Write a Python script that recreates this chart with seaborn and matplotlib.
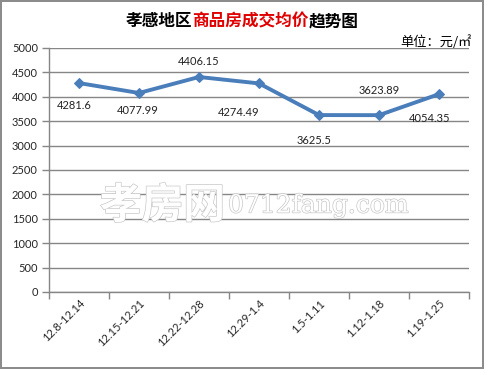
import matplotlib
matplotlib.use("Agg")
import matplotlib.pyplot as plt
import matplotlib.patheffects as pe
from matplotlib.ticker import MultipleLocator, FixedLocator
import seaborn as sns
import pandas as pd

weeks = ["12.8-12.14", "12.15-12.21", "12.22-12.28", "12.29-1.4",
         "1.5-1.11", "1.12-1.18", "1.19-1.25"]
prices = [4281.6, 4077.99, 4406.15, 4274.49, 3625.5, 3623.89, 4054.35]
value_labels = ["4281.6", "4077.99", "4406.15", "4274.49", "3625.5", "3623.89", "4054.35"]
# label offsets in pixels (dx, dy)
label_offsets = [(-5, -22), (-1, -18), (0, 15), (-20, -29), (-5, -25), (0, 25), (-9, -24)]

sns.set_style("white")
plt.rcParams['font.family'] = ['Lato', 'Noto Sans CJK SC', 'DejaVu Sans']

df = pd.DataFrame({"week": weeks, "price": prices})

fig = plt.figure(figsize=(4.84, 3.69), dpi=100)
fig.patch.set_facecolor("white")
fig.patch.set_edgecolor("#8c8c8c")
fig.patch.set_linewidth(1.5)
ax = fig.add_axes([49/484, 1-292/369, 420/484, 244/369])

line_color = "#4A7EBB"
sns.lineplot(data=df, x="week", y="price", ax=ax, color=line_color, linewidth=2.8,
             marker="D", markersize=5.5, markeredgecolor=line_color, sort=False, zorder=5)

ax.set_xlim(-0.5, len(weeks) - 0.5)
ax.set_ylim(0, 5000)
ax.yaxis.set_major_locator(MultipleLocator(500))
ax.grid(axis="y", color="#868686", linewidth=1)
ax.grid(axis="x", visible=False)
for s in ["top", "right"]:
    ax.spines[s].set_visible(False)
for s in ["left", "bottom"]:
    ax.spines[s].set_color("#868686")
    ax.spines[s].set_linewidth(1)

ax.set_xlabel("")
ax.set_ylabel("")
ax.tick_params(axis="y", which="major", length=5, color="#868686", width=1,
               labelsize=8, pad=3, direction="out", left=True)
ax.tick_params(axis="x", which="major", length=0, labelsize=8, pad=4)
ax.xaxis.set_minor_locator(FixedLocator([i - 0.5 for i in range(len(weeks) + 1)]))
ax.tick_params(axis="x", which="minor", length=5, color="#868686", width=1,
               direction="out", bottom=True)
ax.set_xticks(range(len(weeks)))
ax.set_xticklabels(weeks, rotation=45, ha="right", rotation_mode="anchor")

for i, (v, lab, (dx, dy)) in enumerate(zip(prices, value_labels, label_offsets)):
    ax.annotate(lab, xy=(i, v), xytext=(dx, dy), textcoords="offset pixels",
                ha="center", va="center", fontsize=8, color="#222222", zorder=6)

# title
fs = 12
fig.canvas.draw()
r = fig.canvas.get_renderer()
parts = [("孝感地区", "black"), ("商品房成交均价", "#E00000"), ("趋势图", "black")]
widths = []
for txt, c in parts:
    tt = fig.text(0, 0, txt, fontsize=fs, fontweight="bold", family=["Noto Sans CJK SC"])
    widths.append(tt.get_window_extent(r).width)
    tt.remove()
total = sum(widths)
x0 = 242 - total / 2
for (txt, c), w in zip(parts, widths):
    fig.text(x0 / 484, 1 - 21/369, txt, fontsize=fs, fontweight="bold",
             family=["Noto Sans CJK SC"], ha="left", va="center", color=c)
    x0 += w

fig.text(472/484, 1 - 42/369, "单位：元/㎡", fontsize=9.5, ha="right", va="center",
         family=["Noto Sans CJK SC", "DejaVu Sans"], color="black")

# watermark
stroke = [pe.Stroke(linewidth=1.0, foreground="#c8c8c8"), pe.Normal()]
fig.text(100/484, 1 - 206/369, "孝房网", fontsize=30, family=["Noto Sans CJK SC"],
         fontweight="bold", ha="left", va="center", color="white", path_effects=stroke, zorder=10)
fig.text(228/484, 1 - 206/369, "0712fang.com", fontsize=18, family=["DejaVu Serif"],
         ha="left", va="center", color="white", path_effects=stroke, zorder=10)

fig.savefig("out.png", dpi=100, facecolor=fig.get_facecolor(), edgecolor=fig.get_edgecolor())
